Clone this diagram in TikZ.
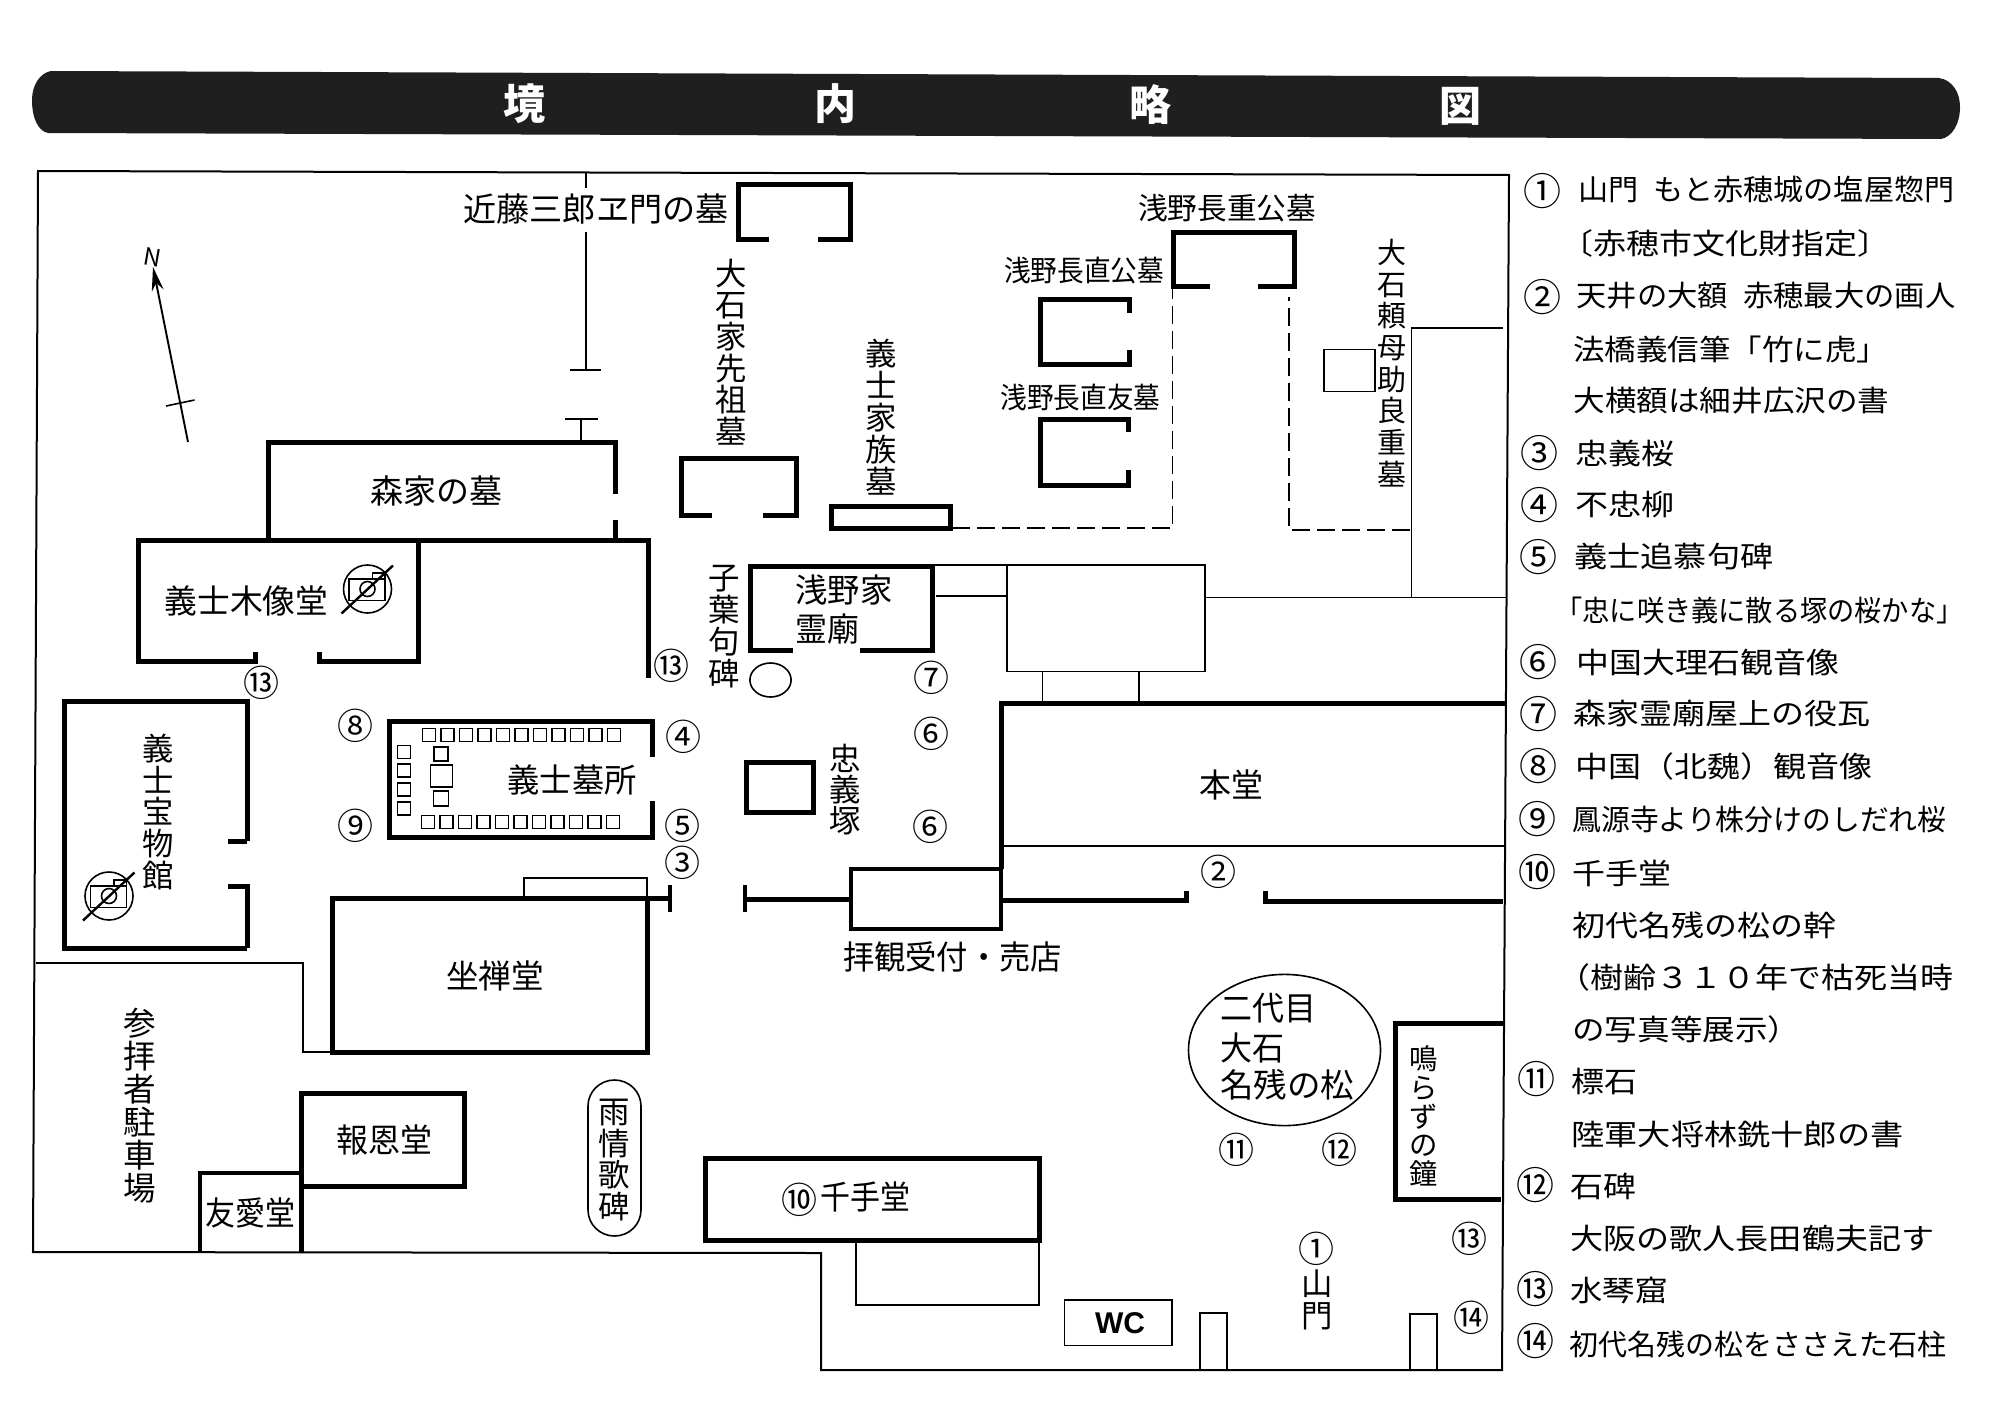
\documentclass[tikz,border=0pt]{standalone}
\usepackage{fontspec}
\usepackage{graphicx}
\setmainfont{Noto Sans CJK JP}
\newfontfamily\wcfont{Liberation Sans}
\usetikzlibrary{arrows.meta}
\newsavebox\fitbox
\newcommand{\fitw}[2]{\sbox\fitbox{#2}\edef\fitwd{\the\wd\fitbox}\pgfmathsetmacro\fitscale{(#1)*0.5/\fitwd}\scalebox{\fitscale}[1]{\usebox\fitbox}}
\newcommand{\vf}[2]{\fontsize{#1}{#2}\selectfont\lineskiplimit=-30pt }
\newcommand{\lab}[5][]{\node[lbl,#1] (#2) at (#3) {\fitw{#4}{#5}};}
\newcommand{\leg}[4]{\node[lgd] (#1) at (#2) {\fitw{#3}{#4}};}
\newcommand{\vlab}[5][15.7]{\node[vlbl,font=\vf{#1}{#4}] (#2) at (#3) {#5};}
\newcommand{\cn}[3]{\node[cnum] (#1) at (#2) {#3};}
\newcommand{\lnum}[3]{\node[cnum,font=\fontsize{19}{19}\selectfont] (#1) at (#2) {#3};}
\newcommand{\nophoto}[2]{\begin{scope}[shift={(#1,#2)}]
\draw[mid] (0,0) circle[radius=24];
\draw[mid] (-18.5,-10) rectangle (17.5,11.5);
\draw[mid] (5,-10)--(5,-16)--(17.5,-16)--(17.5,-10);
\draw[mid] (0,0) circle[radius=7.5];
\draw[line width=1.2pt] (-26,24.5)--(25.5,-23.5);
\end{scope}}
\tikzset{
 lbl/.style={inner sep=0pt,font=\fontsize{16.5}{17}\selectfont},
 lgd/.style={inner sep=0pt,anchor=west,font=\fontsize{14.5}{15}\selectfont},
 vlbl/.style={inner sep=0pt,align=center},
 cnum/.style={inner sep=0pt,font=\fontsize{18}{18}\selectfont},
 thk/.style={line width=2.5pt,line join=miter},
 medl/.style={line width=1.8pt,line join=miter},
 thn/.style={line width=0.8pt,line join=miter},
 mid/.style={line width=0.8pt},
 dsh/.style={line width=0.7pt,dash pattern=on 9pt off 3.5pt},
 titlech/.style={inner sep=0pt,text=white,font=\fontsize{21}{21}\selectfont\bfseries},
}
\begin{document}
\begin{tikzpicture}[x=0.5pt,y=-0.5pt]
\useasboundingbox[fill=white] (0,0) rectangle (2000,1413);
% title bar
\fill[black!88] (51,71)--(1939,78) .. controls (1952,80) and (1960,92) .. (1960,107) .. controls (1960,124) and (1952,137) .. (1941,139)--(48,133) .. controls (38,131) and (32,118) .. (32,100) .. controls (32,85) and (40,73) .. (51,71)--cycle;
\node[titlech] (t1) at (524,104) {境};
\node[titlech] (t2) at (835,104) {内};
\node[titlech] (t3) at (1150,105) {略};
\node[titlech] (t4) at (1460,106) {図};
% frame
\draw[line width=1pt,line join=miter] (38,171)--(1509,175)--(1502,1370)--(821,1370)--(821,1253)--(33,1252)--cycle;
% thin site lines
\draw[thn] (586,172)--(586,188) (586,232)--(586,370) (569.5,370)--(601,370);
\draw[thn] (565,419)--(598,419) (581,419)--(581,441);
\draw[thn] (1411.6,597)--(1411.6,328)--(1503,328);
\draw[thn] (1205,597.4)--(1506,597.4);
\draw[thn] (1007,565) rectangle (1205,671.5);
\draw[thn] (933,565)--(1007,565) (936,596)--(1007,596);
\draw[thn] (1042.5,671.5)--(1042.5,702) (1139,671.5)--(1139,702);
\draw[thn] (1324,349.5) rectangle (1375,391.6);
\draw[thn] (1001,846)--(1505,846);
\draw[thn] (36,963)--(303,963)--(303,1052)--(332,1052);
\draw[thn] (524,898)--(524,878)--(647,878)--(647,898);
\draw[thn] (856,1241)--(856,1305)--(1039,1305)--(1039,1241);
\draw[thn] (1064.6,1300) rectangle (1172,1345.5);
\draw[thn] (1200,1370)--(1200,1313)--(1227,1313)--(1227,1370);
\draw[thn] (1410,1370)--(1410,1314)--(1437,1314)--(1437,1370);
% dashed
\draw[dsh] (952,528)--(1172.6,528)--(1172.6,289);
\draw[dsh] (1410,530)--(1289,530)--(1289,297);
% graves
\draw[thk] (769,239)--(738,239)--(738,184)--(850,184)--(850,239)--(818,239);
\draw[thk] (712,515)--(681,515)--(681,458)--(796,458)--(796,515)--(763,515);
\draw[thk] (831,506) rectangle (950,528.5);
\draw[thk] (1209.5,286)--(1173,286)--(1173,232)--(1294.6,232)--(1294.6,286)--(1258,286);
\draw[thk] (1129,313)--(1129,299)--(1040,299)--(1040,364)--(1129,364)--(1129,350);
\draw[thk] (1128,432)--(1128,419)--(1040,419)--(1040,485)--(1128,485)--(1128,470);
% mori
\draw[thk] (268,540)--(268,442)--(615,442)--(615,494) (615,520)--(615,540);
\draw[thk] (135.5,540.6)--(648,540.6)--(648,678);
\draw[thk] (255,652)--(255,661)--(138,661)--(138,539.5) (418,540)--(418,661)--(319,661)--(319,652);
% homotsukan
\draw[thk] (228,886)--(247,886)--(247,948);
\draw[thk] (247,841)--(228,841);
\draw[thk] (247,841)--(247,701)--(64,701)--(64,948)--(247,948);
% gishi bosho
\draw[thk] (652,757)--(652,721)--(389,721)--(389,837)--(652,837)--(652,801);
\foreach \i in {0,...,10} {
  \draw[mid] ({429+18.5*\i-6.5},{735-6.5}) rectangle ++(13,13);
  \draw[mid] ({428+18.5*\i-6.5},{822-6.5}) rectangle ++(13,13);
}
\foreach \yy in {752,770.7,789.3,808.3} \draw[mid] ({404-6.5},{\yy-6.5}) rectangle ++(13,13);
\draw[mid] (434,747) rectangle (448,761);
\draw[mid] (430.5,765) rectangle (452.5,787);
\draw[mid] (433.5,791) rectangle (448.5,806);
% asano
\draw[thk] (793,650)--(750,650)--(750,566)--(932,566)--(932,650)--(860,650);
\draw[thn] (770.5,680) ellipse[x radius=20.6,y radius=17];
\draw[thk] (746,762) rectangle (813,812);
% hondo
\draw[thk] (1505,703)--(1001,703)--(1001,869);
\draw[medl] (851,869) rectangle (1001,929);
\draw[thk] (670,898.5)--(647,898.5);
\draw[thk] (332,898) rectangle (647,1052);
\draw[line width=1.8pt] (670,885)--(670,912) (745,885)--(745,912);
\draw[thk] (745,899)--(851,899);
\draw[thk] (1001,900)--(1186.6,900)--(1186.6,891);
\draw[thk] (1265,891)--(1265,901)--(1503,901);
% south
\draw[thk] (301,1252)--(301,1093.5)--(464,1093.5)--(464,1186.5)--(301,1186.5);
\draw[medl] (200,1252)--(200,1173)--(301,1173);
\draw[thn] (588,1106) arc[start angle=180,end angle=360,x radius=26.5,y radius=26] -- (641,1210) arc[start angle=0,end angle=180,x radius=26.5,y radius=26] -- cycle;
\draw[thk] (705,1158) rectangle (1039,1240.7);
\draw[thn] (1284.5,1050) ellipse[x radius=96,y radius=75.6];
\draw[thk] (1503,1023)--(1395.7,1023)--(1395.7,1199)--(1501,1199);
% no photo marks
\nophoto{367.5}{589}
\nophoto{109}{896}
% north arrow
\draw[line width=0.95pt,-{Stealth[length=12pt,width=6pt]}] (188,442)--(153,267);
\draw[thn] (166,406)--(194.5,400);
\node[inner sep=0pt,rotate=-10,font=\fontsize{12}{12}\selectfont] (north) at (153,257) {N};
% map labels
\lab{kondo}{596,209}{265}{近藤三郎ヱ門の墓}
\vlab{oishi}{731.5,352}{15.85}{大\\石\\家\\先\\祖\\墓}
\vlab{kazoku}{881,417}{16}{義\\士\\家\\族\\墓}
\lab[font=\fontsize{15}{15}\selectfont]{nagashige}{1227,208}{178}{浅野長重公墓}
\lab[font=\fontsize{14.5}{15}\selectfont]{naganao}{1084,271}{160}{浅野長直公墓}
\lab[font=\fontsize{14.5}{15}\selectfont]{nagatomo}{1080.5,397}{160}{浅野長直友墓}
\vlab[14.5]{yorimochi}{1391.6,363}{15.85}{大\\石\\頼\\母\\助\\良\\重\\墓}
\lab{morike}{436,490.6}{132}{森家の墓}
\lab{mokuzo}{246.5,601}{164}{義士木像堂}
\lab[anchor=west]{reibyo1}{795,590}{97}{浅野家}
\lab[anchor=west]{reibyo2}{795,629}{64}{霊廟}
\vlab{shiyo}{724,626.5}{15.9}{子\\葉\\句\\碑}
\vlab{chugi}{845,790}{15.5}{忠\\義\\塚}
\lab{bosho}{572,779.5}{129}{義士墓所}
\vlab{homotsu}{158,812}{15.85}{義\\士\\宝\\物\\館}
\lab{hondolab}{1231,785}{64}{本堂}
\lab{haikan}{952.6,956.6}{219}{拝観受付・売店}
\lab{zazen}{495,975.7}{98}{坐禅堂}
\vlab[16.3]{parking}{140,1106}{16.5}{参\\拝\\者\\駐\\車\\場}
\lab{hoon}{384,1140}{96}{報恩堂}
\lab{yuai}{250,1213}{90}{友愛堂}
\vlab{ujo}{614,1160}{15.7}{雨\\情\\歌\\碑}
\lab{senju}{865.5,1196.5}{90}{千手堂}
\lab[anchor=west]{pine1}{1220,1008}{96}{二代目}
\lab[anchor=west]{pine2}{1220,1047.5}{64}{大石}
\lab[anchor=west]{pine3}{1220,1085}{134}{名残の松}
\vlab[14.2]{kane}{1424,1116}{14.35}{鳴\\ら\\ず\\の\\鐘}
\vlab{sanmon}{1316.7,1300}{16}{山\\門}
\node[inner sep=0pt,font=\wcfont\fontsize{15}{15}\selectfont\bfseries] (wc) at (1120,1323) {WC};
% map numbers
\cn{m13a}{261.5,682.6}{⑬}
\cn{m13b}{671.6,665.6}{⑬}
\cn{m4}{683,737}{④}
\cn{m5}{682.4,826}{⑤}
\cn{m8}{355,726}{⑧}
\cn{m9}{355,825.4}{⑨}
\cn{m3}{682.4,863}{③}
\cn{m7}{931.4,678}{⑦}
\cn{m6a}{931.4,734}{⑥}
\cn{m6b}{930,827}{⑥}
\cn{m2}{1218.7,871.5}{②}
\cn{m10}{799,1200}{⑩}
\cn{m11}{1236,1150}{⑪}
\cn{m12}{1339,1150}{⑫}
\cn{m1}{1316.7,1248.6}{①}
\cn{m13c}{1469,1239}{⑬}
\cn{m14}{1471,1317.5}{⑭}
% legend numbers
\lnum{l1}{1542,191.5}{①}
\lnum{l2}{1542,297}{②}
\lnum{l3}{1539,453}{③}
\lnum{l4}{1539,505}{④}
\lnum{l5}{1538,557}{⑤}
\lnum{l6}{1538,662}{⑥}
\lnum{l7}{1538,714}{⑦}
\lnum{l8}{1538,766}{⑧}
\lnum{l9}{1537,819.5}{⑨}
\lnum{l10}{1537,872}{⑩}
\lnum{l11}{1536,1079.5}{⑪}
\lnum{l12}{1535,1185}{⑫}
\lnum{l13}{1535,1289}{⑬}
\lnum{l14}{1535,1341}{⑭}
% legend text
\leg{a1}{1578,190}{376}{山門\hspace{0.5em}もと赤穂城の塩屋惣門}
\leg{a2}{1560,243}{330}{〔赤穂市文化財指定〕}
\leg{a3}{1576,296}{379}{天井の大額\hspace{0.5em}赤穂最大の画人}
\leg{a4}{1573,349}{315}{法橋義信筆「竹に虎」}
\leg{a5}{1573,401}{316}{大横額は細井広沢の書}
\leg{a6}{1575,453}{99}{忠義桜}
\leg{a7}{1575,505}{99}{不忠柳}
\leg{a8}{1574,557}{199}{義士追慕句碑}
\leg{a9}{1555,610}{408}{「忠に咲き義に散る塚の桜かな」}
\leg{a10}{1576,662}{263}{中国大理石観音像}
\leg{a11}{1573,714}{297}{森家霊廟屋上の役瓦}
\leg{a12}{1575,766}{297}{中国（北魏）観音像}
\leg{a13}{1572,819.5}{374}{鳳源寺より株分けのしだれ桜}
\leg{a14}{1572,873}{99}{千手堂}
\leg{a15}{1572,925}{264}{初代名残の松の幹}
\leg{a16}{1557,977}{396}{（樹齢３１０年で枯死当時}
\leg{a17}{1572,1029}{228}{の写真等展示）}
\leg{a18}{1571,1081}{66}{標石}
\leg{a19}{1571,1134}{332}{陸軍大将林銑十郎の書}
\leg{a20}{1570,1186}{66}{石碑}
\leg{a21}{1570,1238}{364}{大阪の歌人長田鶴夫記す}
\leg{a22}{1570,1291}{97}{水琴窟}
\leg{a23}{1569,1344}{377}{初代名残の松をささえた石柱}
\end{tikzpicture}
\end{document}
